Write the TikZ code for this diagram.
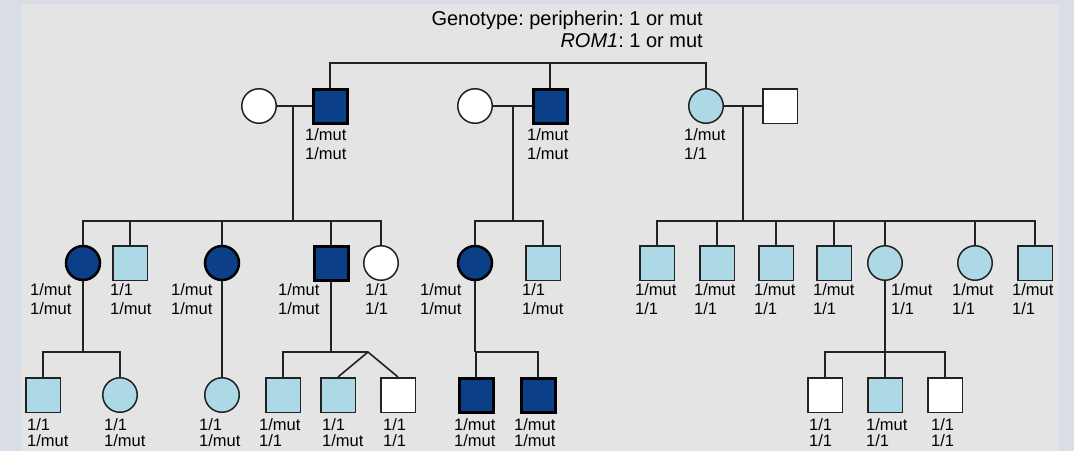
\documentclass[tikz,border=0pt]{standalone}
\usepackage{fontspec}
\setmainfont{Liberation Sans}
\usetikzlibrary{calc}
\definecolor{navy}{HTML}{0B3F88}
\definecolor{lblue}{HTML}{ADD8E6}
\definecolor{panel}{HTML}{E4E4E4}
\definecolor{outerbg}{HTML}{D9DEE6}
\definecolor{ln}{HTML}{222222}
\frenchspacing
\begin{document}
\begin{tikzpicture}[x=1pt,y=-1pt,
  base/.style={draw=ln, line width=1.5pt, inner sep=0pt},
  sq/.style={base, rectangle, minimum size=34.5pt},
  ci/.style={base, circle, minimum size=34.5pt},
  affsq/.style={fill=navy, draw=black, line width=3pt, minimum size=34pt},
  affci/.style={fill=navy, draw=black, line width=2.5pt, minimum size=34pt},
  car/.style={fill=lblue},
  unaff/.style={fill=white},
  gt/.style={anchor=north west, inner sep=0pt, align=left, font=\fontsize{16.5}{19}\selectfont},
  gtlow/.style={gt, font=\fontsize{16.5}{16.5}\selectfont},
  link/.style={draw=ln, line width=1.6pt},
  ttl/.style={anchor=base east, inner sep=0pt, font=\fontsize{20}{24}\selectfont}]
\useasboundingbox (0,0) rectangle (1074,451);
\fill[outerbg] (0,0) rectangle (1074,451);
\fill[panel] (22,4) rectangle (1059,451);

% title
\node[ttl] (t1) at (703,25) {Genotype: peripherin: 1 or mut};
\node[ttl] (t2) at (703,47) {\textit{ROM1}: 1 or mut};

% helper levels
\coordinate (yT) at (0,63);
\coordinate (yA) at (0,221);
\coordinate (yB) at (0,352);

% generation I
\node[ci,unaff] (spA) at (259,106) {};
\node[sq,affsq] (A) at (330,106) {};
\node[ci,unaff] (spB) at (475,106) {};
\node[sq,affsq] (B) at (550,106) {};
\node[ci,car] (C) at (706,106) {};
\node[sq,unaff] (spC) at (780,106) {};

% generation II
\node[ci,affci] (c1) at (83,263) {};
\node[sq,car] (s2) at (130,263) {};
\node[ci,affci] (c3) at (222,263) {};
\node[sq,affsq] (s4) at (331,263) {};
\node[ci,unaff] (c5) at (381,263) {};
\node[ci,affci] (c6) at (475,263) {};
\node[sq,car] (s7) at (543,263) {};
\node[sq,car] (s8) at (657,263) {};
\node[sq,car] (s9) at (717,263) {};
\node[sq,car] (s10) at (776,263) {};
\node[sq,car] (s11) at (834,263) {};
\node[ci,car] (c12) at (885,263) {};
\node[ci,car] (c13) at (975,263) {};
\node[sq,car] (s14) at (1035,263) {};

% generation III
\node[sq,car] (g1) at (43,395) {};
\node[ci,car] (g2) at (120,395) {};
\node[ci,car] (g3) at (222,395) {};
\node[sq,car] (g4) at (283,395) {};
\node[sq,car] (g5) at (338,395) {};
\node[sq,unaff] (g6) at (398,395) {};
\node[sq,affsq] (g7) at (476,395) {};
\node[sq,affsq] (g8) at (538,395) {};
\node[sq,unaff] (g9) at (825,395) {};
\node[sq,car] (g10) at (885,395) {};
\node[sq,unaff] (g11) at (945,395) {};

% marriage points
\coordinate (mA) at (293,106);
\coordinate (mB) at (513,106);
\coordinate (mC) at (743,106);

% connectors generation I
\coordinate (top) at (B.north |- yT);
\draw[link] (A.north) |- (top) -| (C.north);
\draw[link] (B.north) -- (top);
\draw[link] (spA) -- (A);
\draw[link] (spB) -- (B);
\draw[link] (C) -- (spC);

% sibships generation II
\draw[link] (mA) -- (mA |- yA);
\draw[link] (c1.north) |- (mA |- yA) -| (c5.north);
\foreach \n in {s2,c3,s4} \draw[link] (\n.north) -- (\n.north |- yA);
\draw[link] (mB) -- (mB |- yA);
\draw[link] (c6.north) |- (mB |- yA) -| (s7.north);
\draw[link] (mC) -- (mC |- yA);
\draw[link] (s8.north) |- (mC |- yA) -| (s14.north);
\foreach \n in {s9,s10,s11,c12,c13} \draw[link] (\n.north) -- (\n.north |- yA);

% sibships generation III
\draw[link] (c1.south) -- (c1.south |- yB);
\draw[link] (g1.north) |- (c1.south |- yB) -| (g2.north);
\draw[link] (c3) -- (g3);
\coordinate (tw) at (368,352);
\draw[link] (s4.south) -- (s4.south |- yB);
\draw[link] (g4.north) |- (tw);
\draw[link] (g5.north) -- (tw) -- (g6.north);
\draw[link] (c6.south) -- (c6.south |- yB);
\draw[link] (g7.north) |- (c6.south |- yB) -| (g8.north);
\draw[link] (c12.south) -- (g10.north);
\draw[link] (g9.north) |- (c12.south |- yB) -| (g11.north);

% genotype labels generation I
\node[gt] (lA) at (305,128) {1/mut\\1/mut};
\node[gt] (lB) at (527,128) {1/mut\\1/mut};
\node[gt] (lC) at (684,128) {1/mut\\1/1};

% genotype labels generation II
\node[gt] (l1) at (30,283) {1/mut\\1/mut};
\node[gt] (l2) at (110,283) {1/1\\1/mut};
\node[gt] (l3) at (171,283) {1/mut\\1/mut};
\node[gt] (l4) at (278,283) {1/mut\\1/mut};
\node[gt] (l5) at (365,283) {1/1\\1/1};
\node[gt] (l6) at (420,283) {1/mut\\1/mut};
\node[gt] (l7) at (522,283) {1/1\\1/mut};
\node[gt] (l8) at (635,283) {1/mut\\1/1};
\node[gt] (l9) at (694,283) {1/mut\\1/1};
\node[gt] (l10) at (754,283) {1/mut\\1/1};
\node[gt] (l11) at (813,283) {1/mut\\1/1};
\node[gt] (l12) at (891,283) {1/mut\\1/1};
\node[gt] (l13) at (952,283) {1/mut\\1/1};
\node[gt] (l14) at (1012,283) {1/mut\\1/1};

% genotype labels generation III
\node[gtlow] (m1) at (27,418) {1/1\\1/mut};
\node[gtlow] (m2) at (104,418) {1/1\\1/mut};
\node[gtlow] (m3) at (199,418) {1/1\\1/mut};
\node[gtlow] (m4) at (259,418) {1/mut\\1/1};
\node[gtlow] (m5) at (322,418) {1/1\\1/mut};
\node[gtlow] (m6) at (383,418) {1/1\\1/1};
\node[gtlow] (m7) at (454,418) {1/mut\\1/mut};
\node[gtlow] (m8) at (514,418) {1/mut\\1/mut};
\node[gtlow] (m9) at (809,418) {1/1\\1/1};
\node[gtlow] (m10) at (866,418) {1/mut\\1/1};
\node[gtlow] (m11) at (931,418) {1/1\\1/1};
\end{tikzpicture}
\end{document}
